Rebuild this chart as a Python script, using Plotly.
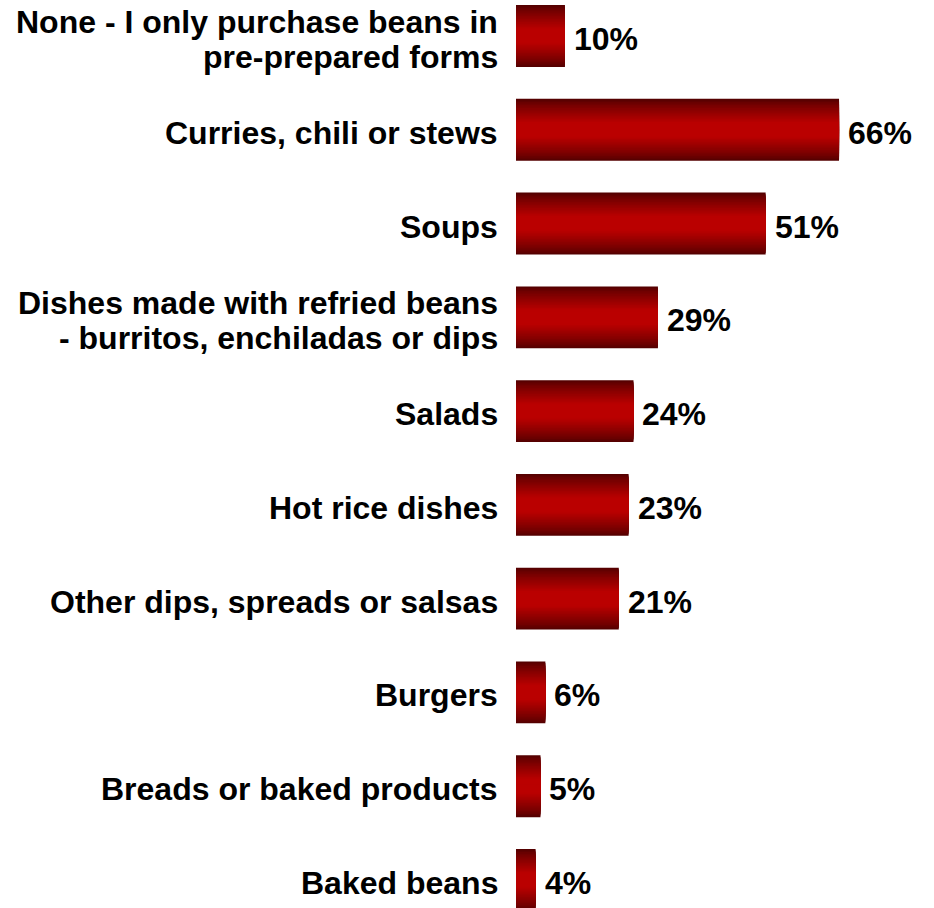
import plotly.graph_objects as go

categories = [
    "None - I only purchase beans in<br>pre-prepared forms",
    "Curries, chili or stews",
    "Soups",
    "Dishes made with refried beans<br>- burritos, enchiladas or dips",
    "Salads",
    "Hot rice dishes",
    "Other dips, spreads or salsas",
    "Burgers",
    "Breads or baked products",
    "Baked beans",
]
values = [10, 66, 51, 29, 24, 23, 21, 6, 5, 4]
value_labels = [f"{v}%" for v in values]

positions = list(range(len(categories)))
label_font = dict(family="Liberation Sans, Arial", size=32, color="black", weight="bold")
line_gap = 35  # px between lines of a wrapped category label
text_drop = -3  # nudge labels down slightly relative to bar centres

# vertical shading: stacked overlay layers, dark at the edges, bright in the middle
edge_rgb = (85, 0, 0)
mid_rgb = (186, 0, 0)
bar_width = 0.66
n_layers = 20

fig = go.Figure()
for k in range(n_layers):
    t = k / (n_layers - 1)          # 0 at outer layer, 1 at innermost
    w = bar_width * (1 - t * 0.95)
    s = min(1.0, t * 1.25)
    s = s ** 0.8
    col = tuple(int(round(e + (m - e) * s)) for e, m in zip(edge_rgb, mid_rgb))
    fig.add_trace(go.Bar(
        x=values,
        y=positions,
        orientation="h",
        width=w,
        marker=dict(color=f"rgb{col}", line=dict(width=0)),
        hoverinfo="skip",
        showlegend=False,
    ))

# value labels right of each bar
for p, v, lab in zip(positions, values, value_labels):
    fig.add_annotation(
        x=v, y=p, text=lab, xanchor="left", yanchor="middle",
        xshift=7, yshift=text_drop, showarrow=False, font=label_font,
    )

# category labels left of the axis, one annotation per line
for p, cat in zip(positions, categories):
    lines = cat.split("<br>")
    n = len(lines)
    for i, line in enumerate(lines):
        fig.add_annotation(
            x=0, y=p, text=line, xanchor="right", yanchor="middle",
            xshift=-16, yshift=((n - 1) / 2 - i) * line_gap + text_drop,
            showarrow=False, font=label_font,
        )

fig.update_layout(
    barmode="overlay",
    width=934, height=908,
    margin=dict(l=516, r=0, t=0, b=0),
    plot_bgcolor="white", paper_bgcolor="white",
    xaxis=dict(range=[0, 85.4], visible=False),
    yaxis=dict(range=[9.299, -0.384], visible=False),
)

fig.write_html("out.html")
